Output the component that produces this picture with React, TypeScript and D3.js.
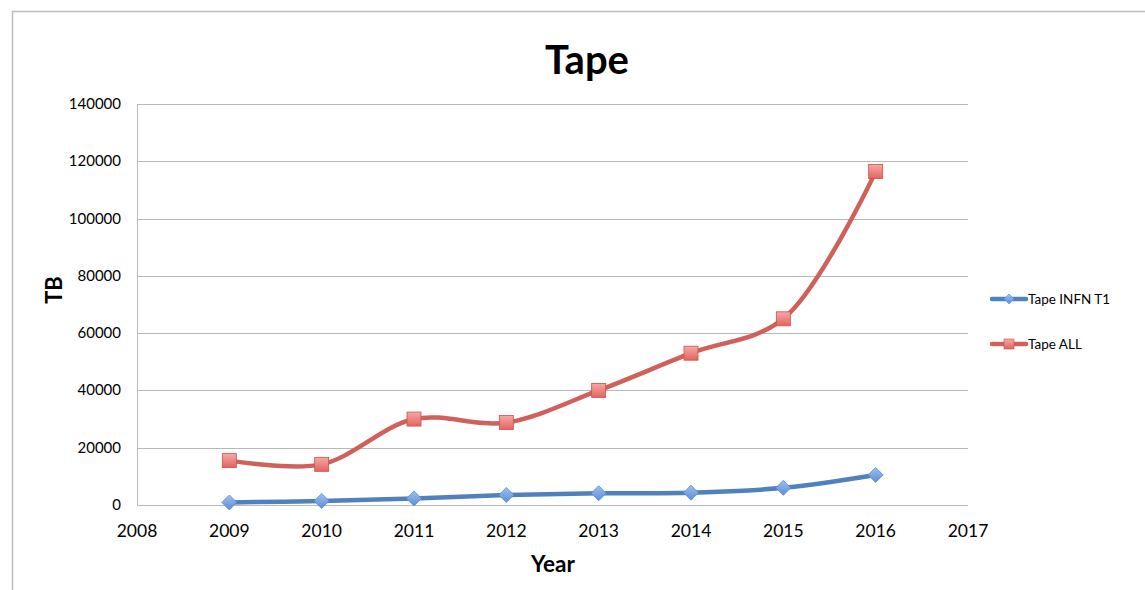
import React from "react";
import * as d3 from "d3";

const years = [2009, 2010, 2011, 2012, 2013, 2014, 2015, 2016];
const tapeInfnT1 = [900, 1400, 2300, 3500, 4100, 4300, 6000, 10500];
const tapeAll = [15500, 14200, 30000, 28800, 40000, 53000, 65000, 116400];
const xTicks = [2008, 2009, 2010, 2011, 2012, 2013, 2014, 2015, 2016, 2017];
const yTicks = [0, 20000, 40000, 60000, 80000, 100000, 120000, 140000];
const seriesNames = ["Tape INFN T1", "Tape ALL"];

const W = 1145;
const H = 590;
const FONT = "Lato, 'Open Sans', sans-serif";

export default function App() {
  const x = d3.scaleLinear().domain([2008, 2017]).range([137, 968]);
  const y = d3.scaleLinear().domain([0, 140000]).range([505, 104]);
  const line = d3
    .line<[number, number]>()
    .x((d) => x(d[0]))
    .y((d) => y(d[1]))
    .curve(d3.curveCatmullRom.alpha(0.5));

  const blueData: [number, number][] = years.map((yr, i) => [yr, tapeInfnT1[i]]);
  const redData: [number, number][] = years.map((yr, i) => [yr, tapeAll[i]]);

  const blue = "#4F81BD";
  const red = "#D0605A";

  const diamond = (cx: number, cy: number, r: number) =>
    `M${cx},${cy - r}L${cx + r},${cy}L${cx},${cy + r}L${cx - r},${cy}Z`;

  return (
    <svg
      width={W}
      height={H}
      style={{ position: "absolute", left: 0, top: 0 }}
      fontFamily={FONT}
    >
      <defs>
        <linearGradient id="gBlue" x1="0" y1="0" x2="0" y2="1">
          <stop offset="0" stopColor="#9DC0F0" />
          <stop offset="1" stopColor="#5A8FD6" />
        </linearGradient>
        <linearGradient id="gRed" x1="0" y1="0" x2="0" y2="1">
          <stop offset="0" stopColor="#F7A8A4" />
          <stop offset="1" stopColor="#E06560" />
        </linearGradient>
      </defs>
      <rect x={0} y={0} width={W} height={H} fill="#fff" />
      <path d={`M12.5,${H}V11.5H${W}`} fill="none" stroke="#bdbdbd" strokeWidth={1.5} />

      <text x={587} y={74} textAnchor="middle" fontSize={40} fontWeight="bold" fill="#000">
        Tape
      </text>

      {yTicks.map((t) => (
        <line
          key={t}
          x1={137}
          x2={968}
          y1={Math.round(y(t)) + 0.5}
          y2={Math.round(y(t)) + 0.5}
          stroke="#b8b8b8"
          strokeWidth={1}
        />
      ))}
      <line x1={137.5} x2={137.5} y1={y(140000)} y2={y(0)} stroke="#b8b8b8" strokeWidth={1} />

      {yTicks.map((t) => (
        <text key={t} x={121} y={y(t) + 5} textAnchor="end" fontSize={15} fill="#000">
          {t}
        </text>
      ))}
      {xTicks.map((t) => (
        <text key={t} x={x(t)} y={537} textAnchor="middle" fontSize={17.5} fill="#000">
          {t}
        </text>
      ))}

      <text x={553} y={572} textAnchor="middle" fontSize={22.5} fontWeight="bold" fill="#000">
        Year
      </text>
      <text
        transform={`translate(62,290) rotate(-90)`}
        textAnchor="middle"
        fontSize={22}
        fontWeight="bold"
        fill="#000"
      >
        TB
      </text>

      <path d={line(redData) || ""} fill="none" stroke={red} strokeWidth={4.5} strokeLinecap="round" />
      <path d={line(blueData) || ""} fill="none" stroke={blue} strokeWidth={4.5} strokeLinecap="round" />

      {redData.map((d, i) => (
        <rect
          key={"r" + i}
          x={x(d[0]) - 7}
          y={y(d[1]) - 7}
          width={14}
          height={14}
          fill="url(#gRed)"
          stroke="#C9524D"
          strokeWidth={0.8}
        />
      ))}
      {blueData.map((d, i) => (
        <path
          key={"b" + i}
          d={diamond(x(d[0]), y(d[1]), 7.5)}
          fill="url(#gBlue)"
          stroke="#5A8CCF"
          strokeWidth={0.8}
        />
      ))}

      {seriesNames.map((name, i) => {
        const ly = 299 + i * 45;
        const col = i === 0 ? blue : red;
        return (
          <g key={name}>
            <line x1={992} x2={1026} y1={ly} y2={ly} stroke={col} strokeWidth={4.5} strokeLinecap="round" />
            {i === 0 ? (
              <path d={diamond(1009, ly, 5)} fill="url(#gBlue)" stroke="#5A8CCF" strokeWidth={0.6} />
            ) : (
              <rect x={1004} y={ly - 5} width={10} height={10} fill="url(#gRed)" stroke="#C9524D" strokeWidth={0.6} />
            )}
            <text x={1028} y={ly + 5} fontSize={13.5} fill="#000">
              {name}
            </text>
          </g>
        );
      })}
    </svg>
  );
}
